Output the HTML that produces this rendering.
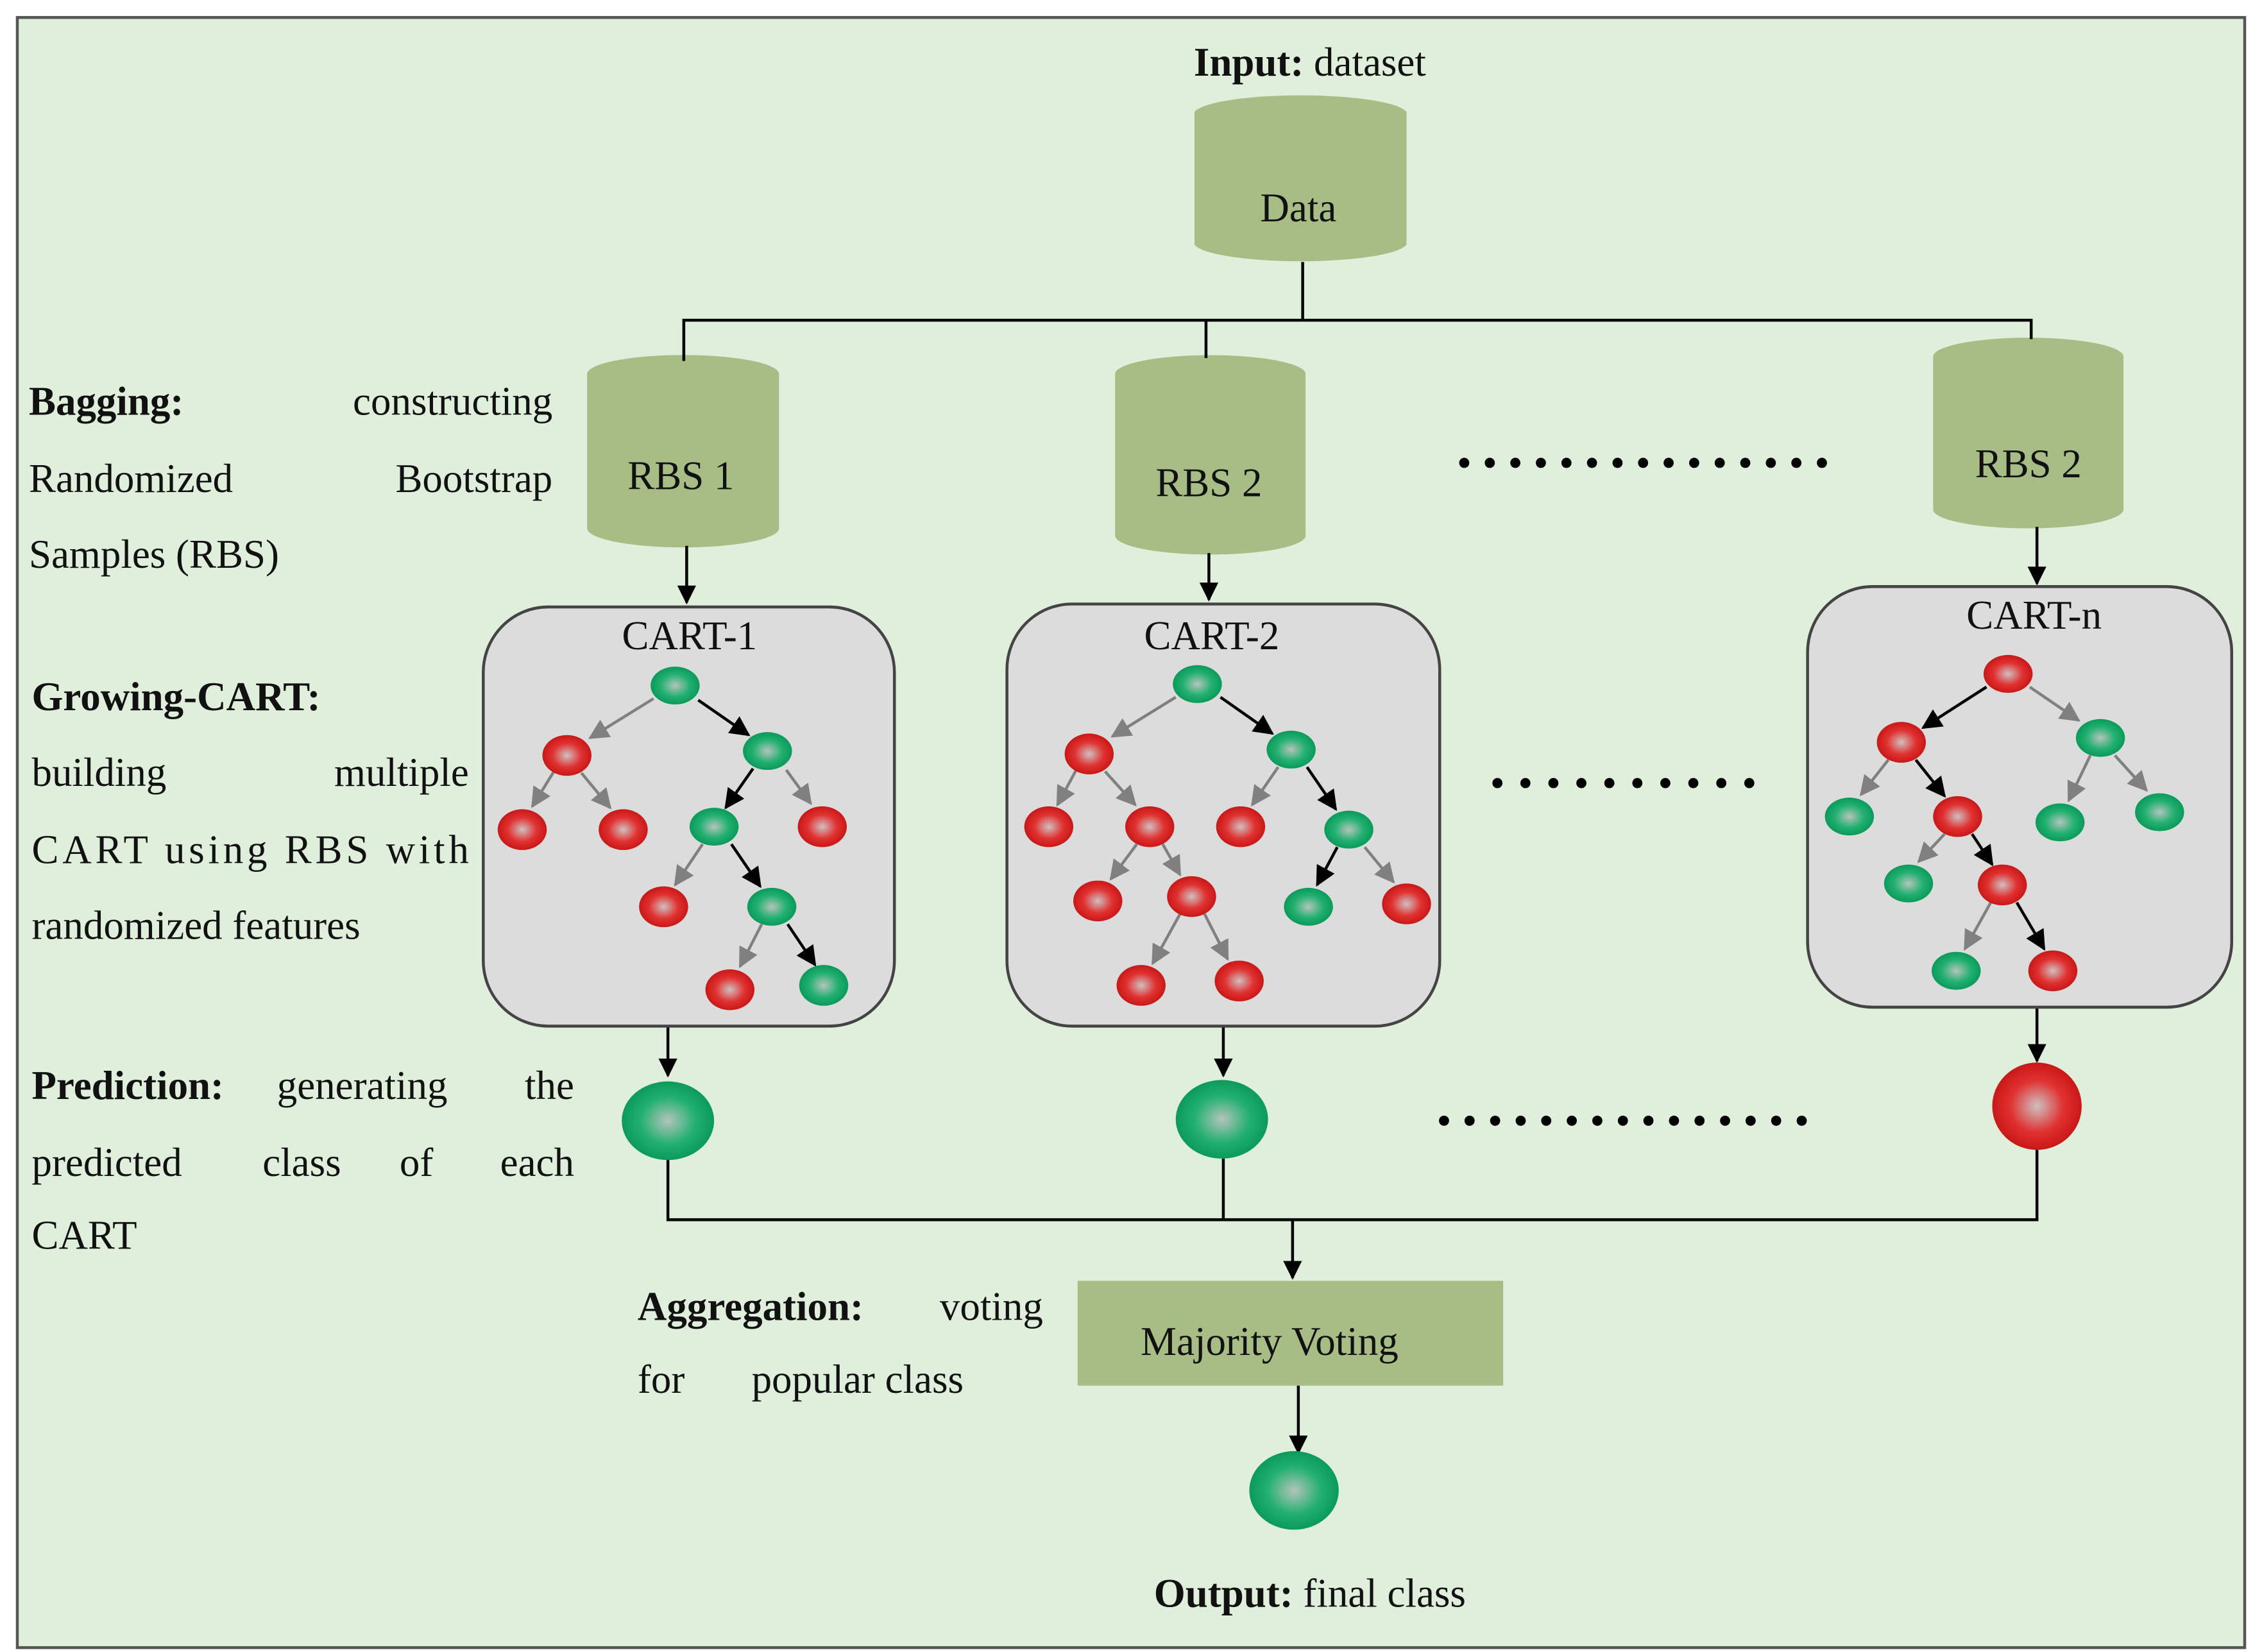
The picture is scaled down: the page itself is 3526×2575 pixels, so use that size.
<!DOCTYPE html>
<html><head><meta charset="utf-8"><style>html,body{margin:0;padding:0;background:#fff}svg{display:block}</style></head>
<body>
<svg width="3526" height="2575" viewBox="0 0 1568 1135" preserveAspectRatio="none" xmlns="http://www.w3.org/2000/svg" font-family="Liberation Serif, serif" font-size="28" fill="#111">
<defs>
<radialGradient id="g"><stop offset="0" stop-color="#b4c4bc"/><stop offset="0.6" stop-color="#22b070"/><stop offset="1" stop-color="#0a9a5a"/></radialGradient>
<radialGradient id="r"><stop offset="0" stop-color="#d0c0c0"/><stop offset="0.6" stop-color="#e03030"/><stop offset="1" stop-color="#c81818"/></radialGradient>
<marker id="ak" viewBox="0 0 10 10" refX="9" refY="5" markerWidth="14" markerHeight="14" orient="auto" markerUnits="userSpaceOnUse"><path d="M0,0L10,5L0,10z" fill="#000"/></marker>
<marker id="ag" viewBox="0 0 10 10" refX="9" refY="5" markerWidth="14" markerHeight="14" orient="auto" markerUnits="userSpaceOnUse"><path d="M0,0L10,5L0,10z" fill="#808080"/></marker>
<marker id="am" viewBox="0 0 10 10" refX="9" refY="5" markerWidth="13" markerHeight="13" orient="auto" markerUnits="userSpaceOnUse"><path d="M0,0L10,5L0,10z" fill="#000"/></marker>
</defs>
<rect x="12" y="12" width="1544" height="1120" fill="#e0efdb" stroke="#555" stroke-width="2"/>
<text x="908" y="52" text-anchor="middle"><tspan font-weight="bold">Input:</tspan> dataset</text>
<g fill="#a8bd86">
<path d="M828,77 A74,13 0 0 1 975,77 V168 A74,13 0 0 1 828,168Z"/>
<path d="M407,257 A66,13 0 0 1 540,257 V363 A66,13 0 0 1 407,363Z"/>
<path d="M773,257 A66,13 0 0 1 905,257 V368 A66,13 0 0 1 773,368Z"/>
<path d="M1340,245 A66,13 0 0 1 1472,245 V350 A66,13 0 0 1 1340,350Z"/>
<rect x="747" y="880" width="295" height="72"/>
</g>
<text x="900" y="152" text-anchor="middle">Data</text>
<text x="472" y="336" text-anchor="middle">RBS 1</text>
<text x="838" y="341" text-anchor="middle">RBS 2</text>
<text x="1406" y="328" text-anchor="middle">RBS 2</text>
<text x="880" y="931" text-anchor="middle">Majority Voting</text>
<g stroke="#000" stroke-width="2" fill="none">
<path d="M903,180V220M474,248V220H1408V233M836,220V246"/>
<path d="M476,375V414" marker-end="url(#am)"/>
<path d="M838,380V412" marker-end="url(#am)"/>
<path d="M1412,362V401" marker-end="url(#am)"/>
<path d="M463,705V739" marker-end="url(#am)"/>
<path d="M848,705V739" marker-end="url(#am)"/>
<path d="M1412,692V729" marker-end="url(#am)"/>
<path d="M463,797V838H1412V790M848,796V838"/>
<path d="M896,838V878" marker-end="url(#am)"/>
<path d="M900,952V998" marker-end="url(#am)"/>
</g>
<g stroke="#000" stroke-width="7" stroke-linecap="round" fill="none">
<path d="M1015,318H1263" stroke-dasharray="0 17.71"/>
<path d="M1038,538H1232" stroke-dasharray="0 19.4"/>
<path d="M1001,770H1249" stroke-dasharray="0 17.71"/>
</g>
<g fill="#dcdcdc" stroke="#444" stroke-width="2">
<rect x="335" y="417" width="285" height="288" rx="45"/>
<rect x="698" y="415" width="300" height="290" rx="45"/>
<rect x="1253" y="403" width="294" height="289" rx="45"/>
</g>
<text x="478" y="446" text-anchor="middle">CART-1</text>
<text x="840" y="446" text-anchor="middle">CART-2</text>
<text x="1410" y="432" text-anchor="middle">CART-n</text>
<g stroke-width="2" fill="none">
<g stroke="#808080">
<path d="M453,480L409,507" marker-end="url(#ag)"/>
<path d="M384,530L369,554" marker-end="url(#ag)"/>
<path d="M403,531L423,555" marker-end="url(#ag)"/>
<path d="M545,529L562,552" marker-end="url(#ag)"/>
<path d="M487,580L468,608" marker-end="url(#ag)"/>
<path d="M528,635L513,664" marker-end="url(#ag)"/>
<path d="M815,479L771,506" marker-end="url(#ag)"/>
<path d="M746,529L733,553" marker-end="url(#ag)"/>
<path d="M766,530L787,553" marker-end="url(#ag)"/>
<path d="M886,527L868,553" marker-end="url(#ag)"/>
<path d="M788,580L770,604" marker-end="url(#ag)"/>
<path d="M806,580L818,601" marker-end="url(#ag)"/>
<path d="M946,582L966,606" marker-end="url(#ag)"/>
<path d="M818,628L799,662" marker-end="url(#ag)"/>
<path d="M835,628L851,659" marker-end="url(#ag)"/>
<path d="M1407,472L1441,495" marker-end="url(#ag)"/>
<path d="M1309,522L1290,546" marker-end="url(#ag)"/>
<path d="M1449,519L1434,550" marker-end="url(#ag)"/>
<path d="M1466,519L1488,543" marker-end="url(#ag)"/>
<path d="M1348,573L1330,592" marker-end="url(#ag)"/>
<path d="M1380,620L1362,652" marker-end="url(#ag)"/>
</g>
<g stroke="#000">
<path d="M484,481L519,505" marker-end="url(#ak)"/>
<path d="M522,528L503,555" marker-end="url(#ak)"/>
<path d="M507,580L527,609" marker-end="url(#ak)"/>
<path d="M546,635L565,663" marker-end="url(#ak)"/>
<path d="M846,479L882,504" marker-end="url(#ak)"/>
<path d="M906,527L926,556" marker-end="url(#ak)"/>
<path d="M927,582L913,608" marker-end="url(#ak)"/>
<path d="M1377,472L1333,500" marker-end="url(#ak)"/>
<path d="M1328,522L1348,547" marker-end="url(#ak)"/>
<path d="M1367,573L1381,594" marker-end="url(#ak)"/>
<path d="M1398,620L1417,652" marker-end="url(#ak)"/>
</g>
</g>
<g>
<ellipse cx="468" cy="471" rx="17" ry="13" fill="url(#g)"/>
<ellipse cx="393" cy="519" rx="17" ry="14" fill="url(#r)"/>
<ellipse cx="532" cy="516" rx="17" ry="13" fill="url(#g)"/>
<ellipse cx="362" cy="570" rx="17" ry="14" fill="url(#r)"/>
<ellipse cx="432" cy="570" rx="17" ry="14" fill="url(#r)"/>
<ellipse cx="495" cy="568" rx="17" ry="13" fill="url(#g)"/>
<ellipse cx="570" cy="568" rx="17" ry="14" fill="url(#r)"/>
<ellipse cx="460" cy="623" rx="17" ry="14" fill="url(#r)"/>
<ellipse cx="535" cy="623" rx="17" ry="13" fill="url(#g)"/>
<ellipse cx="506" cy="680" rx="17" ry="14" fill="url(#r)"/>
<ellipse cx="571" cy="677" rx="17" ry="14" fill="url(#g)"/>
<ellipse cx="830" cy="470" rx="17" ry="13" fill="url(#g)"/>
<ellipse cx="755" cy="518" rx="17" ry="14" fill="url(#r)"/>
<ellipse cx="895" cy="515" rx="17" ry="13" fill="url(#g)"/>
<ellipse cx="727" cy="568" rx="17" ry="14" fill="url(#r)"/>
<ellipse cx="797" cy="568" rx="17" ry="14" fill="url(#r)"/>
<ellipse cx="860" cy="568" rx="17" ry="14" fill="url(#r)"/>
<ellipse cx="935" cy="570" rx="17" ry="13" fill="url(#g)"/>
<ellipse cx="761" cy="619" rx="17" ry="14" fill="url(#r)"/>
<ellipse cx="826" cy="616" rx="17" ry="14" fill="url(#r)"/>
<ellipse cx="907" cy="623" rx="17" ry="13" fill="url(#g)"/>
<ellipse cx="975" cy="621" rx="17" ry="14" fill="url(#r)"/>
<ellipse cx="791" cy="677" rx="17" ry="14" fill="url(#r)"/>
<ellipse cx="859" cy="674" rx="17" ry="14" fill="url(#r)"/>
<ellipse cx="1392" cy="463" rx="17" ry="13" fill="url(#r)"/>
<ellipse cx="1318" cy="510" rx="17" ry="14" fill="url(#r)"/>
<ellipse cx="1456" cy="507" rx="17" ry="13" fill="url(#g)"/>
<ellipse cx="1282" cy="561" rx="17" ry="13" fill="url(#g)"/>
<ellipse cx="1357" cy="561" rx="17" ry="14" fill="url(#r)"/>
<ellipse cx="1428" cy="565" rx="17" ry="13" fill="url(#g)"/>
<ellipse cx="1497" cy="558" rx="17" ry="13" fill="url(#g)"/>
<ellipse cx="1323" cy="607" rx="17" ry="13" fill="url(#g)"/>
<ellipse cx="1388" cy="608" rx="17" ry="14" fill="url(#r)"/>
<ellipse cx="1356" cy="667" rx="17" ry="13" fill="url(#g)"/>
<ellipse cx="1423" cy="667" rx="17" ry="14" fill="url(#r)"/>
<ellipse cx="463" cy="770" rx="32" ry="27" fill="url(#g)"/>
<ellipse cx="847" cy="769" rx="32" ry="27" fill="url(#g)"/>
<ellipse cx="1412" cy="760" rx="31" ry="30" fill="url(#r)"/>
<ellipse cx="897" cy="1024" rx="31" ry="27" fill="url(#g)"/>
</g>
<text x="20" y="285" font-weight="bold">Bagging:</text>
<text x="383" y="285" text-anchor="end">constructing</text>
<text x="20" y="338">Randomized</text>
<text x="383" y="338" text-anchor="end">Bootstrap</text>
<text x="20" y="390">Samples (RBS)</text>
<text x="22" y="488" font-weight="bold">Growing-CART:</text>
<text x="22" y="540">building</text>
<text x="325" y="540" text-anchor="end">multiple</text>
<text x="22" y="593" textLength="303" lengthAdjust="spacing">CART using RBS with</text>
<text x="22" y="645">randomized features</text>
<text x="22" y="755" font-weight="bold">Prediction:</text>
<text x="192" y="755">generating</text>
<text x="398" y="755" text-anchor="end">the</text>
<text x="22" y="808">predicted</text>
<text x="182" y="808">class</text>
<text x="277" y="808">of</text>
<text x="398" y="808" text-anchor="end">each</text>
<text x="22" y="858">CART</text>
<text x="442" y="907" font-weight="bold">Aggregation:</text>
<text x="723" y="907" text-anchor="end">voting</text>
<text x="442" y="957">for</text>
<text x="521" y="957">popular class</text>
<text x="908" y="1104" text-anchor="middle"><tspan font-weight="bold">Output:</tspan> final class</text>
</svg>
</body></html>
